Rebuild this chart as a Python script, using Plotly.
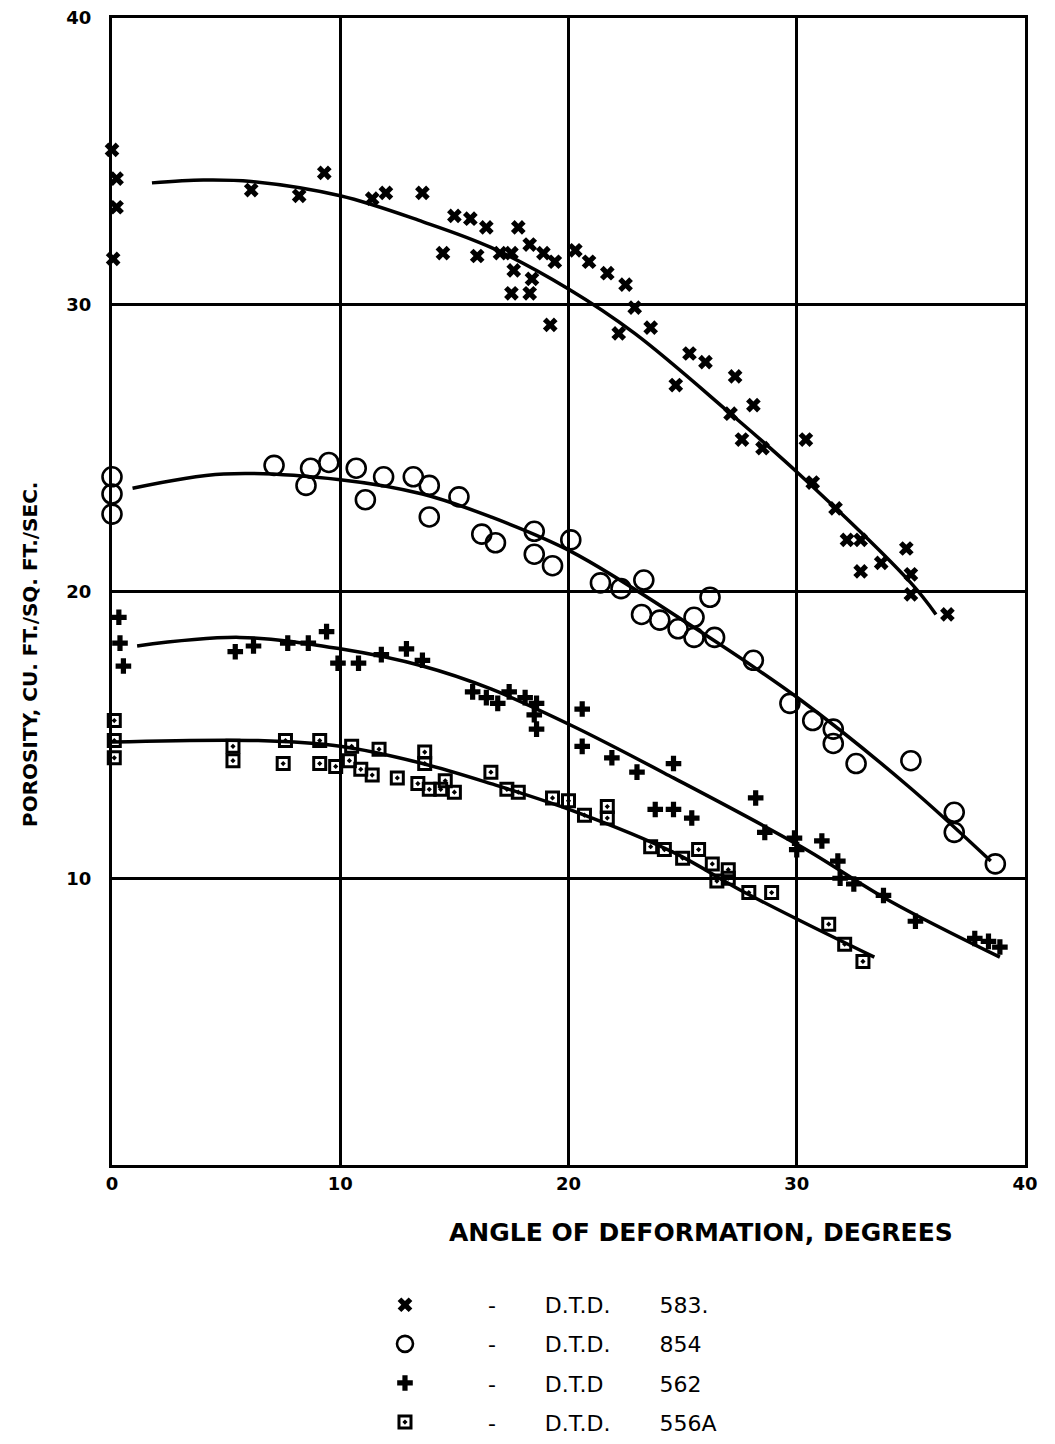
import plotly.graph_objects as go

# ---- data ----
x583 = [0.0, 0.2, 0.2, 0.05, 6.1, 8.2, 9.3, 11.4, 12.0, 13.6, 15.0, 15.7, 16.4, 17.8, 18.3, 18.9, 19.4,
        14.5, 16.0, 17.0, 17.5, 17.6, 18.4, 17.5, 18.3, 19.2, 20.3, 20.9, 21.7, 22.5, 22.9, 22.2, 23.6,
        25.3, 26.0, 24.7, 27.3, 28.1, 27.1, 27.6, 28.5, 30.4, 30.7, 31.7, 32.2, 32.8, 32.8, 33.7, 34.8,
        35.0, 35.0, 36.6]
y583 = [35.4, 34.4, 33.4, 31.6, 34.0, 33.8, 34.6, 33.7, 33.9, 33.9, 33.1, 33.0, 32.7, 32.7, 32.1, 31.8, 31.5,
        31.8, 31.7, 31.8, 31.8, 31.2, 30.9, 30.4, 30.4, 29.3, 31.9, 31.5, 31.1, 30.7, 29.9, 29.0, 29.2,
        28.3, 28.0, 27.2, 27.5, 26.5, 26.2, 25.3, 25.0, 25.3, 23.8, 22.9, 21.8, 21.8, 20.7, 21.0, 21.5,
        20.6, 19.9, 19.2]

x854 = [0.0, 0.0, 0.0, 7.1, 8.7, 8.5, 9.5, 10.7, 11.1, 11.9, 13.2, 13.9, 13.9, 15.2, 16.2, 16.8, 18.5,
        18.5, 19.3, 20.1, 21.4, 22.3, 23.3, 26.2, 23.2, 24.0, 24.8, 25.5, 25.5, 26.4, 28.1, 29.7, 30.7,
        31.6, 31.6, 32.6, 35.0, 36.9, 36.9, 38.7]
y854 = [24.0, 23.4, 22.7, 24.4, 24.3, 23.7, 24.5, 24.3, 23.2, 24.0, 24.0, 23.7, 22.6, 23.3, 22.0, 21.7, 22.1,
        21.3, 20.9, 21.8, 20.3, 20.1, 20.4, 19.8, 19.2, 19.0, 18.7, 19.1, 18.4, 18.4, 17.6, 16.1, 15.5,
        15.2, 14.7, 14.0, 14.1, 12.3, 11.6, 10.5]

x562 = [0.3, 0.35, 0.5, 5.4, 6.2, 7.7, 8.6, 9.4, 9.9, 10.8, 11.8, 12.9, 13.6, 15.8, 16.4, 16.9, 17.4, 18.1,
        18.6, 18.5, 18.6, 20.6, 20.6, 21.9, 23.0, 24.6, 23.8, 24.6, 25.4, 28.2, 28.6, 29.9, 30.0, 31.1,
        31.8, 31.9, 32.5, 33.8, 35.2, 37.8, 38.4, 38.9]
y562 = [19.1, 18.2, 17.4, 17.9, 18.1, 18.2, 18.2, 18.6, 17.5, 17.5, 17.8, 18.0, 17.6, 16.5, 16.3, 16.1, 16.5,
        16.3, 16.1, 15.7, 15.2, 15.9, 14.6, 14.2, 13.7, 14.0, 12.4, 12.4, 12.1, 12.8, 11.6, 11.4, 11.0,
        11.3, 10.6, 10.0, 9.8, 9.4, 8.5, 7.9, 7.8, 7.6]

x556 = [0.1, 0.1, 0.1, 5.3, 5.3, 7.6, 7.5, 9.1, 9.1, 9.8, 10.5, 10.4, 10.9, 11.4, 11.7, 12.5, 13.4, 13.7,
        13.7, 13.9, 14.4, 15.0, 14.6, 16.6, 17.3, 17.8, 19.3, 20.0, 20.7, 21.7, 21.7, 23.6, 24.2, 25.0,
        25.7, 26.3, 27.0, 26.5, 27.0, 27.9, 28.9, 31.4, 32.1, 32.9]
y556 = [15.5, 14.8, 14.2, 14.6, 14.1, 14.8, 14.0, 14.8, 14.0, 13.9, 14.6, 14.1, 13.8, 13.6, 14.5, 13.5, 13.3,
        14.4, 14.0, 13.1, 13.1, 13.0, 13.4, 13.7, 13.1, 13.0, 12.8, 12.7, 12.2, 12.5, 12.1, 11.1, 11.0,
        10.7, 11.0, 10.5, 10.3, 9.9, 10.0, 9.5, 9.5, 8.4, 7.7, 7.1]

# fitted curves
cx583 = [1.75, 4.0, 6.1, 10.0, 13.6, 16.6, 20.0, 22.9, 27.1, 30.1, 35.0, 36.1]
cy583 = [34.25, 34.35, 34.3, 33.8, 32.9, 32.0, 30.55, 29.0, 26.2, 24.1, 20.3, 19.2]
cx854 = [0.9, 4.9, 10.0, 13.6, 16.6, 20.1, 25.2, 30.2, 34.9, 38.5]
cy854 = [23.6, 24.1, 23.9, 23.4, 22.6, 21.4, 18.9, 16.2, 13.2, 10.6]
cx562 = [1.1, 5.6, 10.0, 13.6, 16.6, 20.2, 24.6, 30.2, 34.1, 38.9]
cy562 = [18.1, 18.4, 18.0, 17.4, 16.6, 15.3, 13.5, 11.1, 9.2, 7.25]
cx556 = [0.0, 6.4, 10.0, 13.6, 16.6, 20.2, 24.6, 27.5, 30.2, 33.4]
cy556 = [14.75, 14.8, 14.6, 14.0, 13.3, 12.35, 10.9, 9.6, 8.5, 7.25]

x_ticks = [0, 10, 20, 30, 40]
y_ticks = [10, 20, 30, 40]

NB = "\u00a0"
FONT = "DejaVu Sans"

fig = go.Figure()

curves = [(cx583, cy583), (cx854, cy854), (cx562, cy562), (cx556, cy556)]
for cx, cy in curves:
    fig.add_trace(go.Scatter(x=cx, y=cy, mode="lines",
                             line=dict(color="black", width=3.5, shape="spline", smoothing=1.0),
                             showlegend=False, hoverinfo="skip", cliponaxis=False))

marker_specs = [
    dict(symbol="x", size=13, color="black", line=dict(width=0)),
    dict(symbol="circle-open", size=19, color="black", line=dict(width=2.6, color="black")),
    dict(symbol="cross", size=13, color="black", line=dict(width=0)),
    dict(symbol="square-open-dot", size=12, color="black", line=dict(width=3, color="black")),
]
pts = [(x583, y583), (x854, y854), (x562, y562), (x556, y556)]
labels = [
    NB * 9 + "-" + NB * 7 + "D.T.D." + NB * 7 + "583.",
    NB * 9 + "-" + NB * 7 + "D.T.D." + NB * 7 + "854",
    NB * 9 + "-" + NB * 7 + "D.T.D" + NB * 8 + "562",
    NB * 9 + "-" + NB * 7 + "D.T.D." + NB * 7 + "556A",
]
for i, ((px, py), m) in enumerate(zip(pts, marker_specs)):
    fig.add_trace(go.Scatter(x=px, y=py, mode="markers", marker=m, name=labels[i], legendgroup=str(i),
                             cliponaxis=False))

fig.update_layout(
    width=1055, height=1444,
    margin=dict(l=112, r=30, t=18, b=279, autoexpand=False),
    paper_bgcolor="white", plot_bgcolor="white",
    font=dict(family=FONT, color="black", size=17),
    xaxis=dict(range=[0, 40], tickvals=x_ticks, ticktext=[f"<b>{v}</b>" for v in x_ticks],
               showgrid=True, gridcolor="black", gridwidth=3, zeroline=False,
               showline=True, linecolor="black", linewidth=3, mirror=True, ticks="",
               tickfont=dict(size=18, family=FONT)),
    yaxis=dict(range=[0, 40], tickvals=y_ticks, ticktext=[f"<b>{v}</b>" for v in y_ticks],
               showgrid=True, gridcolor="black", gridwidth=3, zeroline=False,
               showline=True, linecolor="black", linewidth=3, mirror=True, ticks="",
               tickfont=dict(size=18, family=FONT), ticklabelstandoff=14),
    legend=dict(x=0.299, y=-0.1037, xanchor="left", yanchor="top", traceorder="grouped", tracegroupgap=7.5,
                font=dict(size=22, family=FONT), bgcolor="rgba(0,0,0,0)"),
    annotations=[
        dict(text="<b>ANGLE OF DEFORMATION, DEGREES</b>", xref="paper", yref="paper", x=(701 - 112) / 913,
             y=(1165 - 1232) / 1147, xanchor="center", yanchor="middle", showarrow=False,
             font=dict(size=25, family=FONT)),
        dict(text="<b>POROSITY, CU. FT./SQ. FT./SEC.</b>", xref="paper", yref="paper", x=(30 - 112) / 913,
             y=(1165 - 655) / 1147, xanchor="center", yanchor="middle", showarrow=False, textangle=-90,
             font=dict(size=20, family=FONT)),
    ],
)

fig.write_html("out.html")
